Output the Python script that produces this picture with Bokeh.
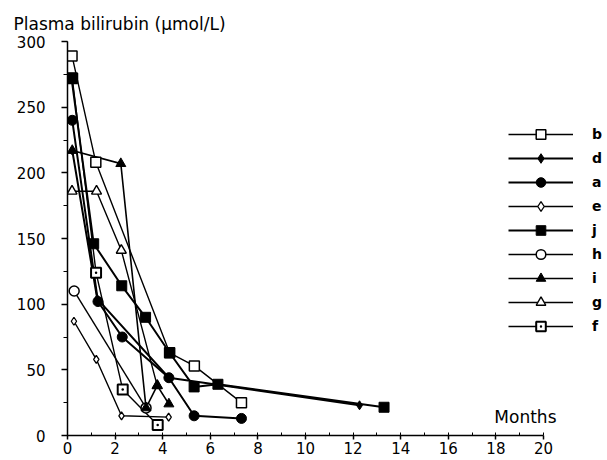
from bokeh.plotting import figure
from bokeh.models import Legend, LegendItem, Label, Range1d, FixedTicker, Title
from bokeh.embed import file_html
from bokeh.resources import INLINE

# ---- data (months, plasma bilirubin umol/L) ----
b_m = [0.19, 1.19, 4.29, 5.33, 7.31]
b_v = [289, 208, 63, 53, 25]
d_m = [0.2, 1.25, 4.26, 12.27]
d_v = [217, 104, 44, 23]
a_m = [0.2, 1.28, 2.3, 4.26, 5.32, 7.31]
a_v = [240, 102, 75, 44, 15, 13]
e_m = [0.27, 1.21, 2.27, 4.25]
e_v = [87, 58, 15, 14]
j_m = [0.17, 1.1, 2.28, 3.28, 4.29, 5.32, 6.32, 13.3]
j_v = [272, 146, 114, 90, 63, 37, 39, 21.5]
h_m = [0.28, 3.3]
h_v = [110, 21]
i_m = [0.2, 2.24, 3.3, 3.77, 4.26]
i_v = [217, 207, 21, 38, 24]
g_m = [0.19, 1.22, 2.26, 3.77]
g_v = [186, 186, 141, 38]
f_m = [0.2, 1.2, 2.32, 3.79]
f_v = [272, 124, 35, 8]

x_ticks = [0, 2, 4, 6, 8, 10, 12, 14, 16, 18, 20]
x_minor = list(range(0, 21))
y_ticks = [0, 50, 100, 150, 200, 250, 300]
y_minor = list(range(0, 301, 25))

FONT = "DejaVu Sans"

# frame: 67px left border, 2px right; axis drawn only from 0 to 20 months
p = figure(width=607, height=460, output_backend="svg", toolbar_location=None,
           x_range=Range1d(0, 22.605), y_range=Range1d(0, 300),
           min_border_left=67, min_border_right=2, min_border_top=41,
           min_border_bottom=25)
p.outline_line_color = None
p.grid.visible = False
p.background_fill_color = "white"
p.border_fill_color = "white"

xa = p.xaxis[0]
xa.bounds = (0, 20)
xa.ticker = FixedTicker(ticks=x_ticks, minor_ticks=x_minor)
xa.major_tick_out = 4
xa.major_tick_in = 0
xa.minor_tick_in = 3
xa.minor_tick_out = 0
xa.major_label_standoff = 2
xa.axis_line_width = 1.5
xa.major_tick_line_width = 1.5
xa.major_label_text_font = FONT
xa.major_label_text_font_size = "15px"
xa.major_label_text_color = "black"

ya = p.yaxis[0]
ya.ticker = FixedTicker(ticks=y_ticks, minor_ticks=y_minor)
ya.major_tick_out = 6
ya.major_tick_in = 0
ya.minor_tick_out = 4
ya.minor_tick_in = 0
ya.major_label_standoff = 16
ya.axis_line_width = 1.5
ya.major_tick_line_width = 1.5
ya.major_label_text_font = FONT
ya.major_label_text_font_size = "15px"
ya.major_label_text_color = "black"

series = {
    "b": (b_m, b_v, dict(marker="square", size=10, fill_color="white", line_width=1.5), 1.4),
    "d": (d_m, d_v, dict(marker="diamond", size=9, fill_color="black", line_width=1), 2.0),
    "a": (a_m, a_v, dict(marker="circle", size=10, fill_color="black", line_width=1), 2.0),
    "e": (e_m, e_v, dict(marker="diamond", size=8, fill_color="white", line_width=1.3), 1.4),
    "j": (j_m, j_v, dict(marker="square", size=10, fill_color="black", line_width=1), 2.0),
    "h": (h_m, h_v, dict(marker="circle", size=10, fill_color="white", line_width=1.5), 1.4),
    "i": (i_m, i_v, dict(marker="triangle", size=10, fill_color="black", line_width=1), 1.6),
    "g": (g_m, g_v, dict(marker="triangle", size=10, fill_color="white", line_width=1.4), 1.4),
    "f": (f_m, f_v, dict(marker="square_dot", size=10, fill_color="white", line_width=2), 1.4),
}
legend_order = ["b", "d", "a", "e", "j", "h", "i", "g", "f"]
draw_order = ["f", "g", "h", "e", "b", "i", "d", "a", "j"]

lines = {}
for name in legend_order:
    xs, ys, style, lw = series[name]
    lines[name] = p.line(xs, ys, line_color="black", line_width=lw)
marks = {}
for name in draw_order:
    xs, ys, style, lw = series[name]
    marks[name] = p.scatter(xs, ys, line_color="black", **style)

items = [LegendItem(label=n, renderers=[lines[n], marks[n]]) for n in legend_order]

legend = Legend(items=items, location=(441, 97), glyph_width=65, glyph_height=24,
                label_height=24, spacing=0, padding=0, margin=0,
                border_line_color=None, background_fill_alpha=0,
                label_standoff=19, label_text_font=FONT,
                label_text_font_style="bold", label_text_font_size="14px",
                label_text_color="black")
p.add_layout(legend)

title = Title(text="Plasma bilirubin (\u00b5mol/L)", align="left", offset=-54,
              text_font=FONT, text_font_size="17px", text_font_style="normal",
              text_color="black", standoff=16)
p.add_layout(title, "above")

p.add_layout(Label(x=20, y=14, text="Months", text_align="right",
                   text_baseline="middle", x_offset=13, text_font=FONT,
                   text_font_size="17px", text_color="black"))

open("out.html", "w").write(file_html(p, INLINE))
